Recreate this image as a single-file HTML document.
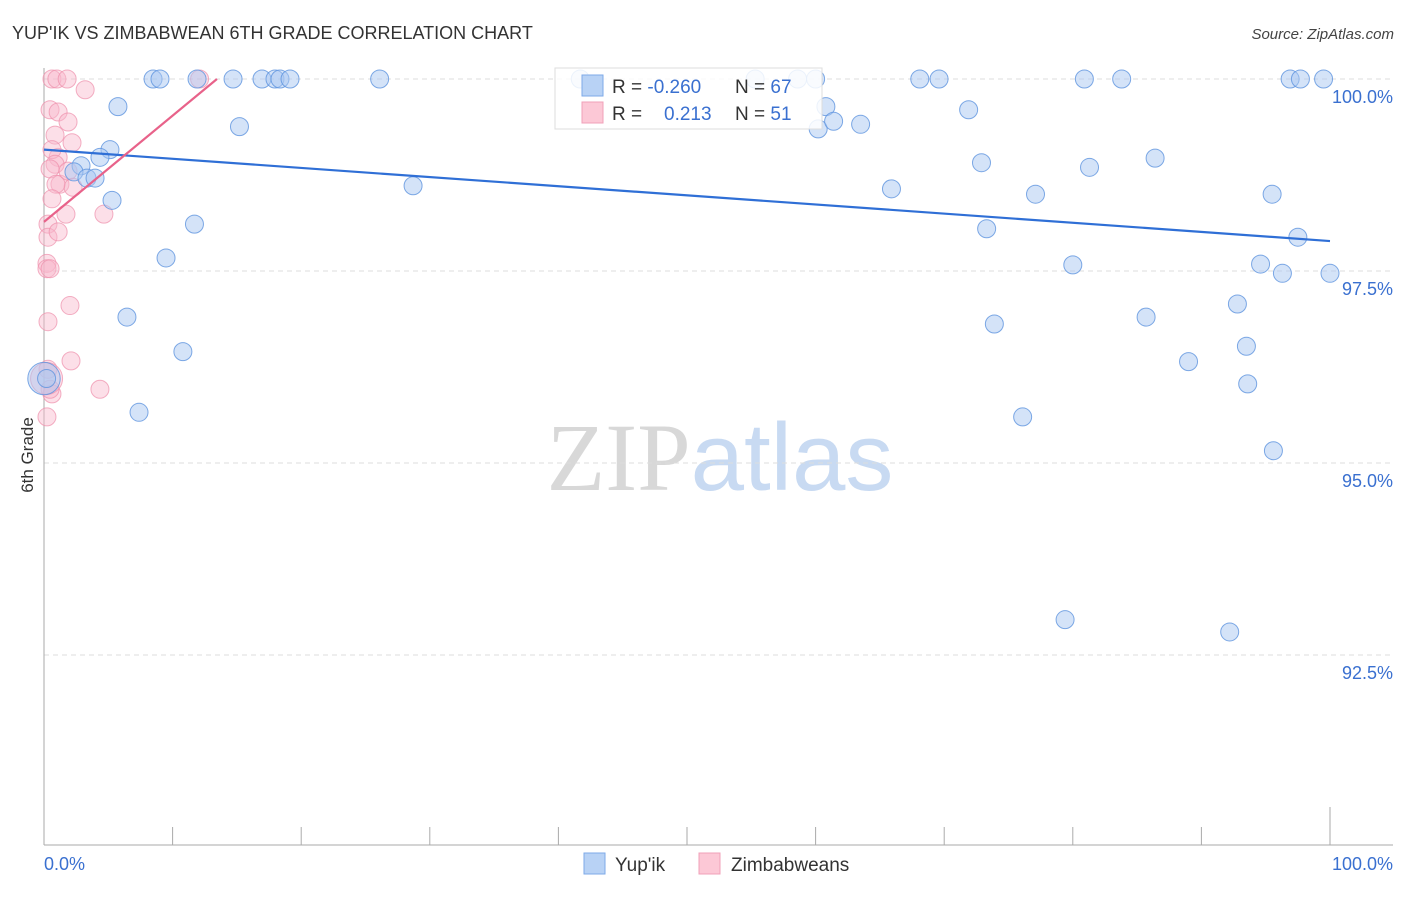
<!DOCTYPE html>
<html><head><meta charset="utf-8"><style>
body{margin:0;background:#fff;font-family:"Liberation Sans",sans-serif}
svg text{font-family:"Liberation Sans",sans-serif}
</style></head><body>
<svg width="1406" height="892" xmlns="http://www.w3.org/2000/svg" id="svg">
<text x="12" y="39" font-size="18" fill="#333">YUP'IK VS ZIMBABWEAN 6TH GRADE CORRELATION CHART</text>
<text x="1394" y="39" font-size="15" fill="#444" text-anchor="end" font-style="italic">Source: ZipAtlas.com</text>
<text x="720" y="490" font-size="96" text-anchor="middle"><tspan fill="#d8d8d8" font-family="Liberation Serif">ZIP</tspan><tspan fill="#c8daf2">atlas</tspan></text>
<text transform="translate(33,455) rotate(-90)" font-size="17" fill="#333" text-anchor="middle">6th Grade</text>
<g id="grid"></g><g id="axes"></g><g id="pts"></g><g id="lines"></g>
<g>
<rect x="555" y="68" width="267" height="61" fill="#fff" fill-opacity="0.85" stroke="#ddd"/>
<rect x="582" y="75" width="21" height="21" fill="#b8d2f5" stroke="#7eaae8"/>
<rect x="582" y="102" width="21" height="21" fill="#fcc8d6" stroke="#f0a0b8"/>
<text x="612" y="93" font-size="19" fill="#333">R = <tspan fill="#3a70d0">-0.260</tspan></text>
<text x="735" y="93" font-size="19" fill="#333">N = <tspan fill="#3a70d0">67</tspan></text>
<text x="612" y="120" font-size="19" fill="#333">R = <tspan fill="#3a70d0" x="664">0.213</tspan></text>
<text x="735" y="120" font-size="19" fill="#333">N = <tspan fill="#3a70d0">51</tspan></text>
</g>
<g>
<rect x="584" y="853" width="21" height="21" fill="#b8d2f5" stroke="#7eaae8"/>
<text x="615" y="871" font-size="19" fill="#333">Yup'ik</text>
<rect x="699" y="853" width="21" height="21" fill="#fcc8d6" stroke="#f0a0b8"/>
<text x="731" y="871" font-size="19" fill="#333">Zimbabweans</text>
</g>
</svg>
<script>
const yTicks=[100,97.5,95,92.5];
const yTickLabels=["100.0%","97.5%","95.0%","92.5%"];
const blueX=[8.48,9.02,11.9,14.7,16.95,17.96,18.35,19.13,26.1,5.75,15.2,5.13,4.35,2.88,2.33,3.34,3.97,5.29,11.7,9.49,6.45,10.8,7.39,28.7,41.7,55.3,58.6,60.0,60.8,60.2,61.4,63.5,68.1,69.6,71.9,65.9,72.9,77.1,73.3,81.3,86.4,80.9,83.8,96.9,97.7,99.5,95.5,97.5,80.0,94.6,96.3,100,85.7,73.9,92.8,93.5,89.0,93.6,76.1,95.6,79.4,92.2,0,0.2];
const blueY=[100,100,100,100,100,100,100,100,100,99.64,99.38,99.08,98.98,98.87,98.79,98.71,98.71,98.42,98.11,97.67,96.90,96.45,95.66,98.61,100,100,100,100,99.64,99.35,99.45,99.41,100,100,99.6,98.57,98.91,98.5,98.05,98.85,98.97,100,100,100,100,100,98.5,97.94,97.58,97.59,97.47,97.47,96.90,96.81,97.07,96.52,96.32,96.03,95.6,95.16,92.96,92.8,96.1,96.1];
const pinkX=[0.62,1.0,1.8,12.1,3.2,0.47,1.1,1.87,0.86,2.18,1.1,0.62,0.86,0.47,1.24,1.87,2.26,0.93,0.62,4.66,1.71,0.31,0.31,1.1,0.23,0.23,0.47,2.02,0.31,2.1,0.31,4.35,0.62,0.47,0.23,0.2];
const pinkY=[100,100,100,100,99.86,99.6,99.57,99.44,99.27,99.17,98.98,99.08,98.89,98.83,98.63,98.8,98.59,98.63,98.44,98.24,98.24,98.11,97.94,98.01,97.6,97.53,97.53,97.05,96.84,96.33,96.22,95.96,95.9,95.96,95.6,96.1];
const blueSize=[10,10,10,10,10,10,10,10,10,10,10,10,10,10,10,10,10,10,10,10,10,10,10,10,10,10,10,10,10,10,10,10,10,10,10,10,10,10,10,10,10,10,10,10,10,10,10,10,10,10,10,10,10,10,10,10,10,10,10,10,10,10,18,10];
const blueTrend=[[0,99.08],[100,97.89]];
const pinkTrend=[[0,98.14],[13.45,100]];
const X=v=>44+v*12.86, Y=v=>79+(100-v)*76.8;
const NS="http://www.w3.org/2000/svg";
function mk(tag,attrs,parent){const e=document.createElementNS(NS,tag);for(const k in attrs)e.setAttribute(k,attrs[k]);document.getElementById(parent).appendChild(e);return e;}
yTicks.forEach((t,i)=>{
 const g=mk('line',{x1:44,x2:1393,y1:Y(t),y2:Y(t),stroke:'#ddd','stroke-dasharray':'5,4'},'grid');
 
 
 const tx=mk('text',{x:1393,y:Y(t)+24,'font-size':18,fill:'#3a70d0','text-anchor':'end'},'grid');
 tx.textContent=yTickLabels[i];
 
 
});
let a=mk('line',{x1:44,x2:44,y1:68,y2:845,stroke:'#aaa'},'axes');


a=mk('line',{x1:44,x2:1393,y1:845,y2:845,stroke:'#aaa'},'axes');


for(let i=0;i<=10;i++){const v=i*10;const t=mk('line',{x1:X(v),x2:X(v),y1:(i==0||i==10)?807:827,y2:845,stroke:'#aaa'},'axes');
 
 }
[[0,"0.0%",'start',44],[100,"100.0%",'end',1393]].forEach(d=>{const t=mk('text',{x:d[3],y:870,'font-size':18,fill:'#3a70d0','text-anchor':d[2]},'axes');t.textContent=d[1];
 
 });
pinkX.forEach((v,i)=>{const c=mk('circle',{cx:X(v),cy:Y(pinkY[i]),r:i==35?16:9,fill:'#f9b8cb','fill-opacity':0.45,stroke:'#ee8fab','stroke-opacity':0.7},'pts');
 
 });
blueX.forEach((v,i)=>{const c=mk('circle',{cx:X(v),cy:Y(blueY[i]),r:blueSize[i]*0.9,fill:'#a9c8f2','fill-opacity':0.5,stroke:'#5e93de','stroke-opacity':0.8},'pts');
 
 });
let l=mk('line',{x1:X(blueTrend[0][0]),y1:Y(blueTrend[0][1]),x2:X(blueTrend[1][0]),y2:Y(blueTrend[1][1]),stroke:'#2f6fd6','stroke-width':2.2},'lines');


l=mk('line',{x1:X(pinkTrend[0][0]),y1:Y(pinkTrend[0][1]),x2:X(pinkTrend[1][0]),y2:Y(pinkTrend[1][1]),stroke:'#e8628a','stroke-width':2.2},'lines');


</script>
</body></html>
